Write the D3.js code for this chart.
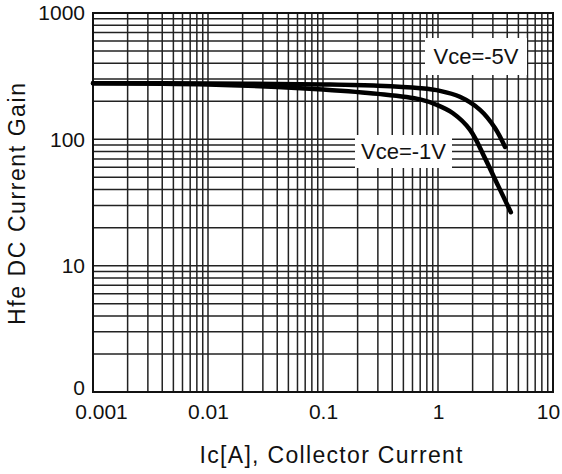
<!DOCTYPE html>
<html lang="en">
<head>
<meta charset="UTF-8" />
<title>Hfe DC Current Gain</title>
<style>
  body { margin: 0; background: #fff; }
  svg { display: block; font-family: Arial, "Liberation Sans", sans-serif; }
</style>
</head>
<body>
<script src="https://cdn.jsdelivr.net/npm/d3@7"></script>
<div id="chart"></div>
<script>
// data
const vce5Ic = [0.001, 0.01, 0.1, 0.3, 0.7, 1.04, 1.55, 2.32, 3.13, 3.83];
const vce5Hfe = [278, 277, 272, 266, 254, 242, 217, 171, 123, 87];
const vce1Ic = [0.001, 0.01, 0.04, 0.1, 0.3, 0.7, 0.98, 1.35, 1.9, 2.56, 3.33, 4.3];
const vce1Hfe = [278, 272, 260, 248, 229, 207, 187, 161, 119, 71, 43, 26.5];

const xTicks = [0.001, 0.01, 0.1, 1, 10];
const xTickLabels = ["0.001", "0.01", "0.1", "1", "10"];
const yTicks = [1, 10, 100, 1000];
const yTickLabels = ["0", "10", "100", "1000"];

const seriesNames = ["Vce=-5V", "Vce=-1V"];

const w = 562, h = 474;
const padL = 93, padR = 553, padT = 13, padB = 392;

const svg = d3.select("#chart").append("svg")
  .attr("width", w)
  .attr("height", h);

const x = d3.scaleLog().domain([0.001, 10]).range([padL, padR]);
const y = d3.scaleLog().domain([1, 1000]).range([padB, padT]);

// grid: 1..9 per decade
const xGrid = [];
xTicks.slice(0, -1).forEach(d => { for (let k = 1; k < 10; k++) xGrid.push(d * k); });
xGrid.push(10);
const yGrid = [];
yTicks.slice(0, -1).forEach(d => { for (let k = 1; k < 10; k++) yGrid.push(d * k); });
yGrid.push(1000);

const grid = svg.append("g").attr("stroke", "#222").attr("stroke-width", 1.5);
grid.selectAll(".vx").data(xGrid).enter().append("line")
  .attr("x1", d => x(d)).attr("x2", d => x(d))
  .attr("y1", padT).attr("y2", padB);
grid.selectAll(".hy").data(yGrid).enter().append("line")
  .attr("y1", d => y(d)).attr("y2", d => y(d))
  .attr("x1", padL).attr("x2", padR);

svg.append("rect")
  .attr("x", padL).attr("y", padT)
  .attr("width", padR - padL).attr("height", padB - padT)
  .attr("fill", "none").attr("stroke", "#111").attr("stroke-width", 2);

// axes
const xAxis = d3.axisBottom(x)
  .tickValues(xTicks)
  .tickFormat((d, i) => xTickLabels[i])
  .tickSize(0).tickPadding(12);
const gx = svg.append("g")
  .attr("transform", "translate(0," + padB + ")")
  .call(xAxis);
gx.select(".domain").remove();
gx.selectAll("text").attr("font-size", 21).attr("fill", "#111").style("font-family", "Arial, 'Liberation Sans', sans-serif");
gx.selectAll(".tick text").attr("dx", (d, i) => i === 0 ? 8 : (i === xTicks.length - 1 ? -5 : 0));

const yAxis = d3.axisLeft(y)
  .tickValues(yTicks)
  .tickFormat((d, i) => yTickLabels[i])
  .tickSize(0).tickPadding(8);
const gy = svg.append("g")
  .attr("transform", "translate(" + padL + ",0)")
  .call(yAxis);
gy.select(".domain").remove();
gy.selectAll("text").attr("font-size", 21).attr("fill", "#111").style("font-family", "Arial, 'Liberation Sans', sans-serif");
gy.select(".tick text").attr("y", -4);

// axis titles
svg.append("text")
  .attr("x", 331).attr("y", 463)
  .attr("text-anchor", "middle")
  .attr("font-size", 23)
  .attr("textLength", 263)
  .attr("fill", "#111")
  .text("Ic[A], Collector Current");

svg.append("text")
  .attr("transform", "translate(25,204) rotate(-90)")
  .attr("text-anchor", "middle")
  .attr("font-size", 23)
  .attr("textLength", 242)
  .attr("fill", "#111")
  .text("Hfe DC Current Gain");

// curves
const line = d3.line()
  .x(d => x(d[0]))
  .y(d => y(d[1]))
  .curve(d3.curveCatmullRom.alpha(0.5));

[d3.zip(vce5Ic, vce5Hfe), d3.zip(vce1Ic, vce1Hfe)].forEach(pts => {
  svg.append("path")
    .datum(pts)
    .attr("d", line)
    .attr("fill", "none")
    .attr("stroke", "#000")
    .attr("stroke-width", 4.5)
    .attr("stroke-linecap", "round");
});

// labels with white boxes
const labelBoxes = [
  { x0: 425, y0: 38, x1: 527, y1: 75 },
  { x0: 355, y0: 135, x1: 452, y1: 168 }
];
labelBoxes.forEach((b, i) => {
  svg.append("rect")
    .attr("x", b.x0).attr("y", b.y0)
    .attr("width", b.x1 - b.x0).attr("height", b.y1 - b.y0)
    .attr("fill", "#fff");
  svg.append("text")
    .attr("x", (b.x0 + b.x1) / 2)
    .attr("y", (b.y0 + b.y1) / 2)
    .attr("dy", "0.36em")
    .attr("text-anchor", "middle")
    .attr("font-size", 22)
    .attr("fill", "#111")
    .text(seriesNames[i]);
});
</script>
</body>
</html>
